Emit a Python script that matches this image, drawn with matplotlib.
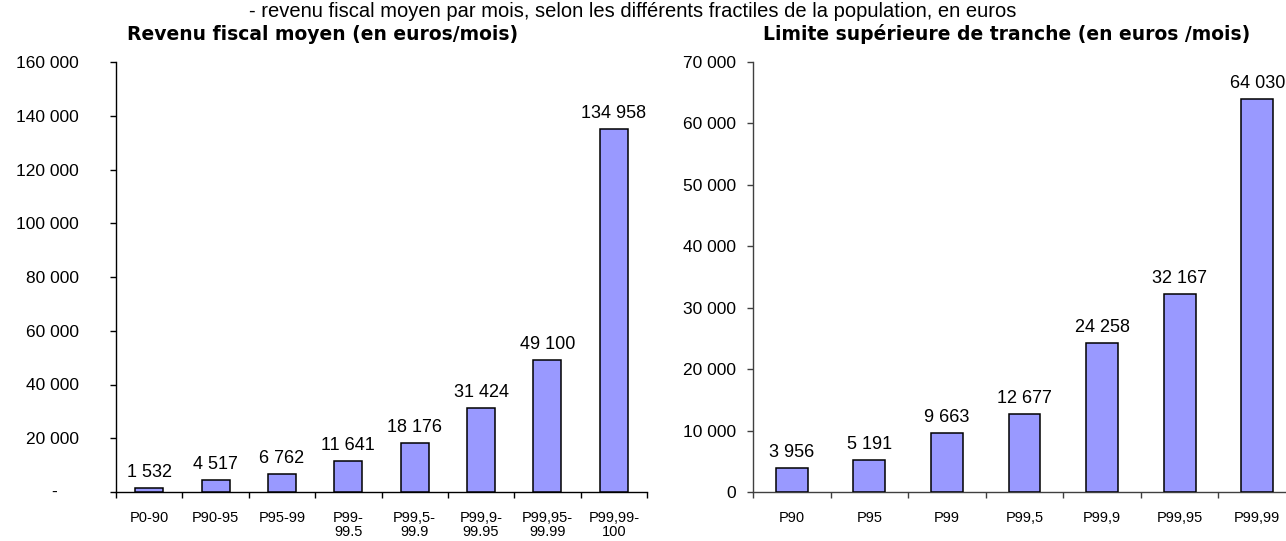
import matplotlib
matplotlib.use("Agg")
import matplotlib.pyplot as plt
from matplotlib.transforms import blended_transform_factory

# ---- data ----
left_categories = ["P0-90", "P90-95", "P95-99", "P99-\n99.5", "P99,5-\n99.9",
                   "P99,9-\n99.95", "P99,95-\n99.99", "P99,99-\n100"]
left_values = [1532, 4517, 6762, 11641, 18176, 31424, 49100, 134958]
left_yticks = [0, 20000, 40000, 60000, 80000, 100000, 120000, 140000, 160000]

right_categories = ["P90", "P95", "P99", "P99,5", "P99,9", "P99,95", "P99,99"]
right_values = [3956, 5191, 9663, 12677, 24258, 32167, 64030]
right_yticks = [0, 10000, 20000, 30000, 40000, 50000, 60000, 70000]

subtitle = "- revenu fiscal moyen par mois, selon les différents fractiles de la population, en euros"
left_title = "Revenu fiscal moyen (en euros/mois)"
right_title = "Limite supérieure de tranche (en euros /mois)"


def fmt(v):
    return f"{v:,}".replace(",", " ")


W, H = 1286, 541
fig = plt.figure(figsize=(W / 100, H / 100), dpi=100)
fig.patch.set_facecolor("white")

BAR = "#9999FF"
FONT = "Liberation Sans"
TFONT = "DejaVu Sans"


def setup(ax, cats, vals, yticks, ylabels, ymax, width, spine_color):
    x = list(range(len(cats)))
    ax.bar(x, vals, width=width, color=BAR, edgecolor="black", linewidth=1.1, zorder=3)
    ax.set_xlim(-0.5, len(cats) - 0.5)
    ax.set_ylim(0, ymax)
    for s in ["top", "right"]:
        ax.spines[s].set_visible(False)
    for s in ["left", "bottom"]:
        ax.spines[s].set_color(spine_color)
        ax.spines[s].set_linewidth(1.0)
    # category boundaries as major ticks, labels as minor ticks
    ax.set_xticks([i - 0.5 for i in range(len(cats) + 1)])
    ax.set_xticklabels([])
    ax.set_xticks(x, minor=True)
    ax.set_xticklabels(cats, minor=True, fontsize=10.5, fontfamily=FONT, linespacing=1.05)
    ax.tick_params(axis="x", which="major", direction="out", length=4, width=1.0, color=spine_color)
    ax.tick_params(axis="x", which="minor", length=0, pad=13.5)
    ax.set_yticks(yticks)
    ax.set_yticklabels(ylabels, fontsize=12.5, fontfamily=FONT)
    ax.tick_params(axis="y", direction="out", length=4, width=1.0, color=spine_color)
    for xi, v in zip(x, vals):
        ax.annotate(fmt(v), (xi, v), xytext=(0, 5), textcoords="offset points",
                    ha="center", va="bottom", fontsize=13, fontfamily=FONT)


# left chart
axL = fig.add_axes([116 / W, 1 - 492 / H, 531 / W, 430 / H])
left_labels = ["" if t == 0 else fmt(t) for t in left_yticks]
setup(axL, left_categories, left_values, left_yticks, left_labels, 160000, 0.42, "black")
axL.tick_params(axis="y", pad=23)
trL = blended_transform_factory(axL.transAxes, axL.transData)
axL.text(-62 / 531, 0, "-", transform=trL, ha="center", va="center", fontsize=12.5, fontfamily=FONT)

# right chart (extends beyond the right edge of the figure, as in the reference)
axR = fig.add_axes([753 / W, 1 - 492 / H, 543 / W, 430 / H])
right_labels = [fmt(t) for t in right_yticks]
setup(axR, right_categories, right_values, right_yticks, right_labels, 70000, 0.41, "#404040")
axR.tick_params(axis="y", pad=8)

# titles
fig.text(323 / W, 1 - 34 / H, left_title, ha="center", va="center",
         fontsize=13.5, fontweight="bold", fontfamily=TFONT)
fig.text(1007 / W, 1 - 34 / H, right_title, ha="center", va="center",
         fontsize=13.5, fontweight="bold", fontfamily=TFONT)
fig.text(249 / W, 1 - 2 / H, subtitle, ha="left", va="top",
         fontsize=14.5, fontfamily=FONT)

fig.savefig("out.png", dpi=100, facecolor="white")
